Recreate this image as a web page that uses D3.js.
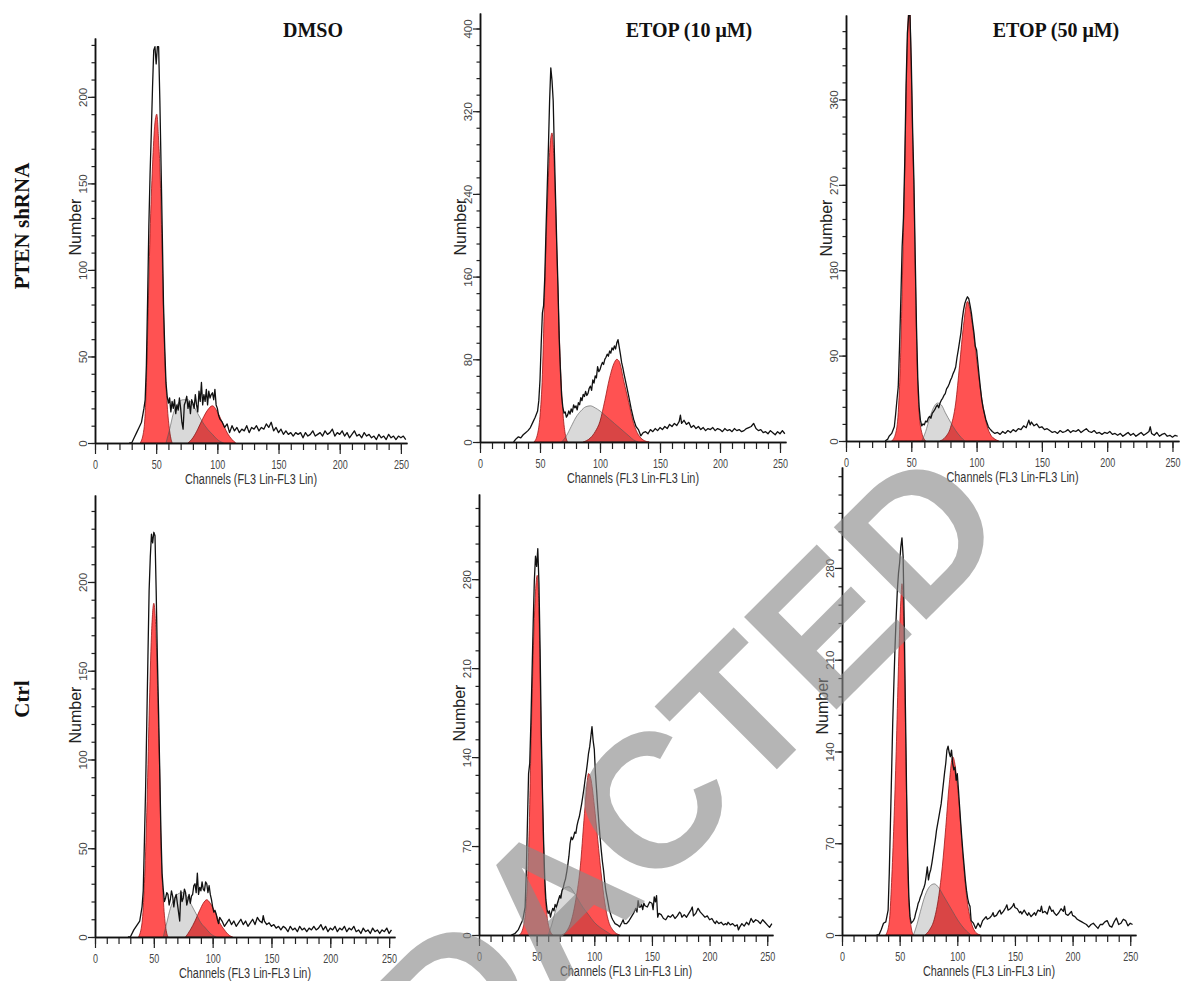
<!DOCTYPE html>
<html>
<head>
<meta charset="utf-8">
<script src="https://cdn.jsdelivr.net/npm/d3@7"></script>
<style>
  html, body { margin: 0; padding: 0; background: #fff; }
  svg { display: block; }
</style>
</head>
<body>
<svg id="sketchbook" width="1181" height="981"></svg>
<script>
// ---- data ----------------------------------------------------------------
const xTickLabels = [0, 50, 100, 150, 200, 250];
const columnTitles = ["DMSO", "ETOP (10 \u03BCM)", "ETOP (50 \u03BCM)"];
const rowTitles = ["PTEN shRNA", "Ctrl"];

// PTEN shRNA / DMSO
const shDmsoYLabels = [0, 50, 100, 150, 200];
const shDmsoHist = [[28,0],[30,0],[32,3],[34,6],[36,9],[38,12],[40,20],[41,25],[42,45],[43,83],[44,125],[45,155],[46,179],[47,205],[48,227],[49,229],[50,219],[51,229],[52,229],[53,198],[54,160],[55,121],[56,80],[57,55],[58,35],[59,27],[60,23],[61,26],[62,18],[63,24],[64,20],[65,25],[66,17],[67,22],[68,19],[69,26],[70,20],[71,12],[72,8],[73,22],[74,24],[75,27],[76,20],[77,24],[78,17],[79,25],[80,23],[81,20],[82,28],[83,22],[84,18],[85,30],[86,24],[87,35],[88,22],[89,28],[90,24],[91,31],[92,22],[93,30],[94,26],[95,28],[96,29],[97,25],[98,31],[99,22],[100,20],[101,16],[102,14],[104,12],[106,9],[108,11],[110,6],[112,10],[114,7],[116,9],[118,6],[120,8],[122,7],[124,10],[126,6],[128,9],[130,8],[132,10],[134,7],[136,9],[138,8],[140,11],[142,9],[144,12],[146,7],[148,9],[150,6],[152,8],[154,5],[156,7],[158,5],[160,6],[162,4],[164,6],[166,5],[168,6],[170,3],[172,6],[174,4],[176,5],[178,7],[180,4],[182,5],[184,6],[186,4],[188,7],[190,5],[192,6],[194,8],[196,4],[198,6],[200,5],[202,7],[204,4],[206,6],[208,3],[210,5],[212,7],[214,4],[216,5],[218,3],[220,6],[222,4],[224,5],[226,3],[228,4],[230,2],[232,5],[234,3],[236,4],[238,2],[240,5],[242,3],[244,4],[246,2],[248,4],[250,3],[252,4],[254,2]];
const shDmsoG1 = [[37,0],[40,8],[42,35],[43,63],[45,121],[47,160],[49,185],[50.5,190],[52,175],[53,160],[54.5,121],[56,75],[57,50],[59,22],[61,7],[63,0]];
const shDmsoG2 = [[76,0],[80,3],[84,8],[88,14],[92,19],[96,21.5],[100,18],[104,12],[108,6],[112,2],[115,0]];
const shDmsoS = [[58,0],[61,8],[64,17],[68,23],[72,25],[76,25],[80,22],[84,17],[88,12],[92,8],[96,5],[100,2],[105,0]];

// PTEN shRNA / ETOP 10
const shEtop10YLabels = [0, 80, 160, 240, 320, 400];
const shEtop10Hist = [[28,0],[30,3],[32,5],[34,4],[36,7],[38,9],[40,11],[42,14],[44,19],[46,24],[48,30],[49,40],[50,60],[51,95],[52,125],[53,132],[54,160],[55,205],[56,245],[57,285],[58,330],[59,362],[60,350],[61,330],[62,280],[63,235],[64,190],[65,150],[66,100],[67,70],[68,45],[69,34],[70,28],[71,29],[72,24],[73,26],[74,30],[75,27],[76,32],[77,29],[78,36],[79,33],[80,35],[81,31],[82,38],[83,36],[84,43],[85,40],[86,46],[87,44],[88,49],[89,45],[90,47],[91,52],[92,54],[93,50],[94,60],[95,57],[96,64],[97,62],[98,73],[99,68],[100,70],[101,74],[102,77],[103,75],[104,80],[105,82],[106,85],[107,83],[108,88],[109,86],[110,91],[111,89],[112,93],[113,90],[114,96],[115,99],[116,92],[117,85],[118,77],[119,72],[120,66],[122,55],[124,44],[126,32],[128,22],[130,15],[132,12],[134,6],[136,9],[138,10],[140,8],[142,12],[144,10],[146,13],[148,11],[150,14],[152,12],[154,15],[156,13],[158,17],[160,15],[162,18],[164,16],[166,20],[167,26],[168,18],[170,21],[172,17],[174,19],[176,14],[178,16],[180,13],[182,15],[184,12],[186,14],[188,11],[190,13],[192,12],[194,14],[196,11],[198,13],[200,12],[202,10],[204,13],[206,11],[208,12],[210,10],[212,13],[214,11],[216,12],[218,10],[220,11],[222,13],[224,14],[226,15],[228,18],[230,13],[232,11],[234,12],[236,9],[238,10],[240,8],[242,11],[244,9],[246,7],[248,10],[250,8],[252,11],[254,8]];
const shEtop10G1 = [[45,0],[48,8],[50,25],[52,65],[54,150],[56,225],[58,280],[60,299],[62,262],[64,185],[65,145],[67,75],[69,30],[71,8],[73,0]];
const shEtop10G2 = [[86,0],[92,4],[96,10],[100,20],[104,40],[108,62],[112,77],[114,80],[116,78],[120,58],[124,38],[128,18],[132,7],[136,2],[141,0]];
const shEtop10S = [[68,0],[72,6],[76,15],[80,24],[84,30],[88,34],[92,35],[96,33],[100,30],[104,26],[108,22],[112,18],[116,14],[120,10],[124,6],[128,2],[132,0]];

// PTEN shRNA / ETOP 50
const shEtop50YLabels = [0, 90, 180, 270, 360];
const shEtop50Hist = [[30,0],[32,2],[33,5],[35,8],[37,15],[38,28],[39,43],[40,57],[41,100],[42,150],[43,205],[44,235],[45,295],[46,375],[47,430],[48,449],[49,449],[50,400],[51,330],[52,275],[53,195],[54,120],[55,65],[56,36],[57,22],[58,16],[59,18],[60,17],[61,21],[62,20],[63,24],[64,26],[65,24],[66,29],[67,31],[68,33],[69,36],[70,38],[71,35],[72,40],[73,43],[74,45],[75,48],[76,50],[77,55],[78,57],[79,60],[80,64],[81,67],[82,71],[83,74],[84,78],[85,88],[86,96],[87,105],[88,114],[89,128],[90,138],[91,145],[92,149],[93,152],[94,150],[95,143],[96,135],[97,124],[98,114],[99,100],[100,96],[101,82],[102,68],[103,55],[104,43],[105,35],[106,29],[107,23],[108,19],[109,15],[110,13],[112,10],[114,8],[116,9],[118,7],[120,10],[122,8],[124,11],[126,9],[128,12],[130,10],[132,13],[134,12],[136,16],[138,14],[140,22],[141,17],[142,20],[144,16],[146,18],[148,14],[150,15],[152,12],[154,13],[156,11],[158,9],[160,10],[162,8],[164,11],[166,9],[168,10],[170,12],[172,9],[174,11],[176,10],[178,12],[180,9],[182,11],[184,13],[186,10],[188,9],[190,11],[192,8],[194,9],[196,7],[198,9],[200,8],[202,10],[204,7],[206,8],[208,6],[210,8],[212,5],[214,7],[216,9],[218,6],[220,8],[222,5],[224,7],[226,9],[228,6],[230,8],[232,10],[233,15],[234,8],[236,6],[238,9],[240,5],[242,7],[244,8],[246,5],[248,6],[250,4],[252,6],[254,5]];
const shEtop50G1 = [[35,0],[38,8],[40,30],[42,100],[43,160],[44,220],[45,285],[46,360],[47,420],[48,460],[48.5,470],[50,390],[51,320],[52,262],[53,182],[54,108],[55,58],[56,30],[58,9],[61,0]];
const shEtop50G2 = [[72,0],[76,4],[80,14],[84,40],[87,80],[90,122],[93,147],[96,130],[99,98],[102,64],[105,36],[108,16],[111,6],[114,2],[117,0]];
const shEtop50S = [[58,0],[61,10],[64,24],[67,35],[70,40],[73,38],[76,30],[80,20],[84,11],[88,4],[91,0]];

// Ctrl / DMSO
const ctDmsoYLabels = [0, 50, 100, 150, 200];
const ctDmsoHist = [[28,0],[30,0],[33,4],[36,7],[38,9],[40,17],[41,26],[42,54],[43,83],[44,120],[45,158],[46,195],[47,214],[48,227],[49,222],[50,228],[51,226],[52,195],[53,158],[54,128],[55,95],[56,60],[57,36],[58,27],[59,20],[60,22],[61,25],[62,24],[63,18],[64,21],[65,26],[66,23],[67,17],[68,22],[69,24],[70,19],[71,14],[72,9],[73,26],[74,20],[75,22],[76,27],[77,25],[78,18],[79,21],[80,24],[81,19],[82,23],[83,24],[84,29],[85,30],[86,25],[87,36],[88,24],[89,28],[90,26],[91,31],[92,27],[93,26],[94,31],[95,30],[96,25],[97,29],[98,24],[99,21],[100,17],[101,14],[102,15],[103,13],[104,10],[105,7.5],[106,11],[108,9],[110,6],[112,8],[114,10],[116,7],[118,9],[120,6],[122,8],[124,10],[126,7],[128,9],[130,6],[132,8],[134,10],[136,7],[138,11],[140,9],[142,8],[143,12],[144,9],[146,7],[148,8],[150,6],[152,7],[154,5],[156,6],[158,4],[160,6],[162,5],[164,3],[166,6],[168,4],[170,5],[172,3],[174,6],[176,4],[178,5],[180,3],[182,5],[184,4],[186,6],[188,4],[190,5],[192,7],[194,4],[196,6],[198,3],[200,5],[202,4],[204,6],[206,3],[208,5],[210,4],[212,6],[214,3],[216,5],[218,4],[220,6],[222,3],[224,4],[226,2],[228,5],[230,3],[232,4],[234,2],[236,5],[238,3],[240,4],[242,2],[244,4],[246,3],[248,5],[250,2],[252,4]];
const ctDmsoG1 = [[37,0],[40,8],[42,30],[44,70],[46,125],[48,170],[50,188],[52,168],[54,118],[55,92],[56,55],[58,22],[60,6],[62,0]];
const ctDmsoG2 = [[77,0],[81,4],[85,9],[89,15],[92,19],[95,21],[98,19],[102,14],[106,8],[110,4],[114,1],[117,0]];
const ctDmsoS = [[58,0],[61,8],[64,16],[67,21],[70,24],[74,25],[78,23],[82,18],[86,13],[90,8],[94,5],[98,2],[103,0]];

// Ctrl / ETOP 10
const ctEtop10YLabels = [0, 70, 140, 210, 280];
const ctEtop10Hist = [[28,0],[31,1],[34,4],[36,8],[38,12],[40,22],[41,49],[42,88],[43,127],[44,135],[45,167],[46,206],[47,245],[48,279],[49,298],[50,290],[51,304],[52,277],[53,225],[54,160],[55,115],[56,75],[57,45],[58,28],[59,20],[60,17],[61,19],[62,14],[63,18],[64,21],[65,19],[66,24],[67,22],[68,25],[69,28],[70,31],[71,29],[72,35],[73,37],[74,41],[75,44],[76,49],[77,55],[78,62],[79,72],[80,77],[81,75],[82,77],[83,81],[84,80],[85,86],[86,90],[87,93],[88,98],[89,103],[90,109],[91,115],[92,122],[93,128],[94,135],[95,143],[96,148],[97,156],[98,164],[99,153],[100,146],[101,127],[102,114],[103,100],[104,88],[105,77],[106,67],[107,58],[108,51],[109,42],[110,35],[111,30],[112,25],[113,20],[114,17],[115,14],[116,12],[118,9],[120,8],[122,6.5],[124,10],[125,12],[126,9],[128,9],[130,11],[132,14],[134,17],[136,21],[137,18],[138,27],[139,22],[140,22],[141,24],[142,20],[143,25],[144,23],[146,22],[148,26],[150,25],[151,20],[152,30],[153,26],[154,31],[155,14],[156,17],[158,16],[160,13],[162,12],[164,15],[166,14],[168,16],[170,13],[172,15],[174,18],[175,17],[176,14],[178,16],[180,14],[182,17],[184,20],[185,22],[186,15],[188,17],[190,21],[192,18],[194,16],[196,14],[198,15],[200,12],[202,13],[204,10],[205,9],[206,11],[208,9],[210,10],[212,8],[214,9],[215,8],[216,10],[218,8],[220,9],[222,7],[224,8],[225,4],[226,6],[228,9],[230,7],[232,10],[234,8],[236,13],[238,10],[240,12],[242,11],[244,9],[246,12],[248,10],[250,8],[252,6],[254,9]];
const ctEtop10G1 = [[35,0],[38,5],[41,25],[43,65],[45,145],[47,220],[49,270],[50.5,283],[52,255],[53,205],[54,150],[55,110],[56,70],[57,40],[59,15],[61,5],[64,0]];
const ctEtop10G2 = [[72,0],[76,3],[80,11],[84,28],[88,55],[91,90],[93,112],[95,127],[97,123],[100,102],[103,75],[106,48],[109,26],[112,12],[116,4],[122,0]];
const ctEtop10S = [[60,0],[63,8],[66,18],[70,30],[74,37],[78,38],[82,34],[86,28],[90,22],[95,16],[100,10],[105,6],[110,3],[115,0]];

// Ctrl / ETOP 50
const ctEtop50YLabels = [0, 70, 140, 210, 280];
const ctEtop50Hist = [[30,0],[32,0],[34,4],[36,9],[38,10],[40,19],[41,47],[42,85],[43,123],[44,162],[45,192],[46,220],[47,243],[48,263],[49,276],[50,284],[51,296],[52,303],[53,289],[54,238],[55,174],[56,111],[57,60],[58,29],[59,14],[60,9],[61,10],[62,11],[63,13],[64,17],[65,20],[66,24],[67,26],[68,29],[69,31],[70,34],[71,36],[72,39],[73,45],[74,52],[75,42],[76,47],[77,50],[78,55],[79,61],[80,67],[81,73],[82,80],[83,85],[84,90],[85,95],[86,100],[87,108],[88,116],[89,124],[90,131],[91,141],[92,144],[93,139],[94,136],[95,141],[96,131],[97,126],[98,128],[99,118],[100,123],[101,111],[102,98],[103,85],[104,73],[105,62],[106,52],[107,42],[108,34],[109,28],[110,24],[111,22],[112,11],[113,10],[114,9],[116,5],[118,9],[120,6],[122,11],[124,13],[125,14],[126,12],[128,13],[130,15],[131,17],[132,14],[134,15],[136,18],[137,19],[138,16],[140,18],[142,21],[143,23],[144,19],[146,20],[148,22],[149,24],[150,21],[152,20],[154,17],[155,18],[156,16],[158,19],[160,16],[161,15],[162,17],[164,14],[166,16],[167,17],[168,15],[170,19],[172,18],[173,22],[174,17],[176,18],[178,16],[180,22],[182,18],[183,19],[184,17],[186,15],[188,17],[190,20],[192,18],[193,22],[194,16],[196,15],[198,17],[199,18],[200,15],[202,14],[204,12],[206,11],[208,10],[210,9],[212,8],[214,6],[216,8],[218,9],[220,7],[222,5],[224,8],[226,8],[228,10],[230,11],[232,7],[234,6],[236,10],[238,13],[240,8],[242,9],[244,12],[246,11],[248,7],[250,9],[252,8]];
const ctEtop50G1 = [[38,0],[41,10],[43,40],[45,85],[47,140],[49,205],[51,255],[52,268],[53,255],[54,215],[55,160],[56,105],[57,55],[58,25],[60,6],[62,0]];
const ctEtop50G2 = [[72,0],[76,4],[80,12],[84,30],[87,52],[90,82],[93,115],[96,136],[98,130],[100,115],[102,95],[104,70],[106,48],[108,30],[110,18],[113,7],[116,2],[120,0]];
const ctEtop50S = [[62,0],[65,8],[68,18],[72,30],[76,37],[80,39],[84,36],[88,30],[92,24],[96,18],[100,12],[104,7],[108,3],[112,0]];

// ---- layout ----------------------------------------------------------------
const panels = [
    { hist: shDmsoHist,   g1: shDmsoG1,   g2: shDmsoG2,   s: shDmsoS,   yLabels: shDmsoYLabels,   yStep: 10, yMax: 234, left: 95,  bottom: 443, top: 38,  xLen: 312, numberY: 227, title: columnTitles[0], titleX: 313 },
    { hist: shEtop10Hist, g1: shEtop10G1, g2: shEtop10G2, s: shEtop10S, yLabels: shEtop10YLabels, yStep: 16, yMax: 415, left: 480, bottom: 442, top: 13,  xLen: 306, numberY: 227, title: columnTitles[1], titleX: 689 },
    { hist: shEtop50Hist, g1: shEtop50G1, g2: shEtop50G2, s: shEtop50S, yLabels: shEtop50YLabels, yStep: 18, yMax: 449, left: 846, bottom: 441, top: 15,  xLen: 333, numberY: 228, title: columnTitles[2], titleX: 1056 },
    { hist: ctDmsoHist,   g1: ctDmsoG1,   g2: ctDmsoG2,   s: ctDmsoS,   yLabels: ctDmsoYLabels,   yStep: 10, yMax: 249, left: 95,  bottom: 937, top: 495, xLen: 300, numberY: 715 },
    { hist: ctEtop10Hist, g1: ctEtop10G1, g2: ctEtop10G2, s: ctEtop10S, yLabels: ctEtop10YLabels, yStep: 14, yMax: 347, left: 479, bottom: 935, top: 494, xLen: 294, numberY: 713 },
    { hist: ctEtop50Hist, g1: ctEtop50G1, g2: ctEtop50G2, s: ctEtop50S, yLabels: ctEtop50YLabels, yStep: 14, yMax: 357, left: 842, bottom: 935, top: 467, xLen: 294, numberY: 706 },
];

const svg = d3.select("#sketchbook");
const sans = '"Liberation Sans", Arial, sans-serif';
const serif = '"Liberation Serif", "Times New Roman", serif';

svg.append("rect").attr("width", 1181).attr("height", 981).attr("fill", "#fff");

panels.forEach((p, i) => {
    const x = d3.scaleLinear().domain([0, 255]).range([p.left, p.left + p.xLen]);
    const y = d3.scaleLinear().domain([0, p.yMax]).range([p.bottom, p.top]);
    const g = svg.append("g").attr("class", "panel");

    const clipId = "clip" + i;
    svg.append("clipPath").attr("id", clipId)
        .append("rect")
        .attr("x", p.left).attr("y", p.top)
        .attr("width", p.xLen).attr("height", p.bottom - p.top);

    const plot = g.append("g").attr("clip-path", "url(#" + clipId + ")");

    const area = d3.area()
        .x(d => x(d[0]))
        .y0(y(0))
        .y1(d => y(d[1]))
        .curve(d3.curveMonotoneX);

    // red G1 / G2 peaks
    [p.g1, p.g2].forEach(pk => {
        plot.append("path")
            .datum(pk)
            .attr("d", area)
            .attr("fill", "#ff5252")
            .attr("stroke", "#a01818")
            .attr("stroke-width", 0.8);
    });

    // S phase
    plot.append("path")
        .datum(p.s)
        .attr("d", area)
        .attr("fill", "#000")
        .attr("fill-opacity", 0.15)
        .attr("stroke", "#555")
        .attr("stroke-width", 0.6);

    // histogram
    plot.append("path")
        .datum(p.hist)
        .attr("d", d3.line().x(d => x(d[0])).y(d => y(d[1])))
        .attr("fill", "none")
        .attr("stroke", "#111")
        .attr("stroke-width", 1.3)
        .attr("stroke-linejoin", "round");

    // x axis
    const xMinor = g.append("g").attr("transform", "translate(0," + p.bottom + ")")
        .call(d3.axisBottom(x).tickValues(d3.range(0, 251, 10)).tickSize(7).tickSizeOuter(0).tickFormat(""));
    const xMajor = g.append("g").attr("transform", "translate(0," + p.bottom + ")")
        .call(d3.axisBottom(x).tickValues(xTickLabels).tickSize(11).tickSizeOuter(0));
    xMajor.selectAll(".tick text")
        .attr("y", 17)
        .attr("font-family", sans)
        .attr("font-size", 13)
        .attr("fill", "#444")
        .attr("textLength", d => String(d).length * 5)
        .attr("lengthAdjust", "spacingAndGlyphs");

    // y axis
    const yMinor = g.append("g").attr("transform", "translate(" + p.left + ",0)")
        .call(d3.axisLeft(y).tickValues(d3.range(0, p.yMax + 1e-6, p.yStep)).tickSize(3.5).tickSizeOuter(0).tickFormat(""));
    const yMajor = g.append("g").attr("transform", "translate(" + p.left + ",0)")
        .call(d3.axisLeft(y).tickValues(p.yLabels).tickSize(7).tickSizeOuter(0));
    yMajor.selectAll(".tick text")
        .attr("transform", "rotate(-90)")
        .attr("x", 0)
        .attr("y", -8)
        .attr("dy", 0)
        .attr("text-anchor", "middle")
        .attr("font-family", sans)
        .attr("font-size", 11.5)
        .attr("fill", "#444");

    [xMinor, xMajor, yMinor, yMajor].forEach(a => {
        a.select(".domain").attr("stroke", "#111").attr("stroke-width", 1.5);
        a.selectAll(".tick line").attr("stroke", "#222").attr("stroke-width", 1.2);
    });

    // axis titles
    g.append("text")
        .attr("x", p.left + p.xLen / 2)
        .attr("y", p.bottom + 41)
        .attr("text-anchor", "middle")
        .attr("font-family", sans)
        .attr("font-size", 14)
        .attr("fill", "#333")
        .attr("textLength", 132)
        .attr("lengthAdjust", "spacingAndGlyphs")
        .text("Channels (FL3 Lin-FL3 Lin)");

    g.append("text")
        .attr("transform", "translate(" + (p.left - 14) + "," + p.numberY + ") rotate(-90)")
        .attr("text-anchor", "middle")
        .attr("font-family", sans)
        .attr("font-size", 16)
        .attr("fill", "#222")
        .text("Number");

    if (p.title)
        svg.append("text")
            .attr("x", p.titleX)
            .attr("y", 37)
            .attr("text-anchor", "middle")
            .attr("font-family", serif)
            .attr("font-weight", "bold")
            .attr("font-size", 20)
            .attr("fill", "#111")
            .text(p.title);
});

// row labels
[[rowTitles[0], 226], [rowTitles[1], 699]].forEach(r => {
    svg.append("text")
        .attr("transform", "translate(29," + r[1] + ") rotate(-90)")
        .attr("text-anchor", "middle")
        .attr("font-family", serif)
        .attr("font-weight", "bold")
        .attr("font-size", 21)
        .attr("fill", "#111")
        .text(r[0]);
});

// watermark
svg.append("text")
    .attr("transform", "translate(641,905) rotate(-45)")
    .attr("text-anchor", "middle")
    .attr("font-family", sans)
    .attr("font-weight", "bold")
    .attr("font-size", 190)
    .attr("fill", "#888")
    .attr("fill-opacity", 0.62)
    .text("REDACTED");
</script>
</body>
</html>
